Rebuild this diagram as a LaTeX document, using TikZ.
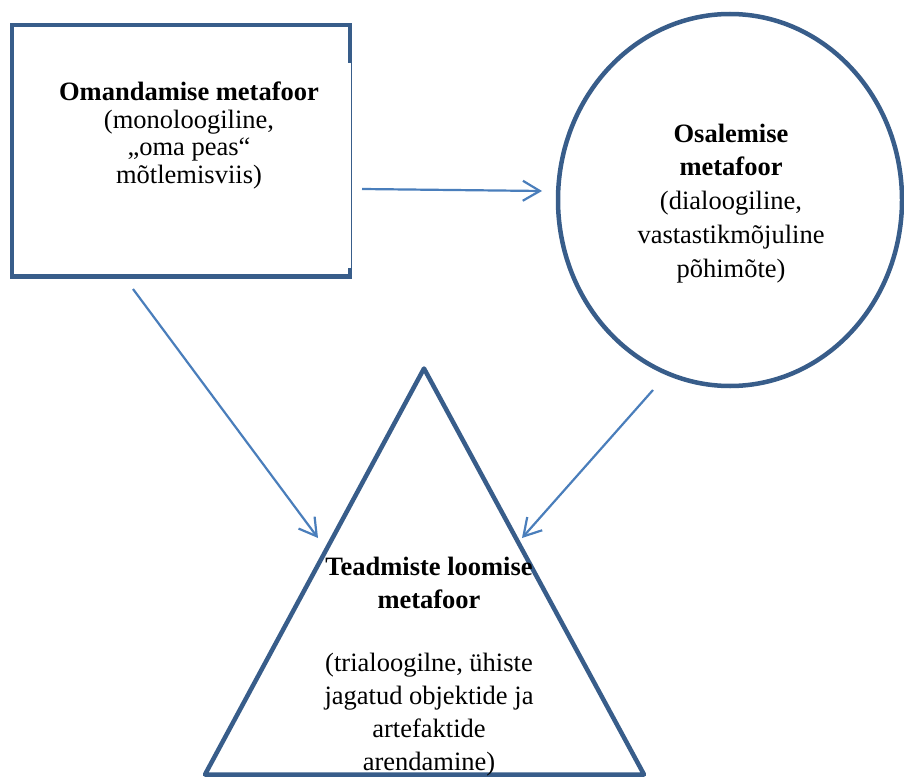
\documentclass[tikz,border=0pt]{standalone}
\usepackage{fontspec}
\setmainfont{Liberation Serif}
\usetikzlibrary{arrows.meta,shapes.geometric,calc}
\definecolor{frame}{HTML}{385D8A}
\definecolor{arrowc}{HTML}{4A7EBB}
\begin{document}
\begin{tikzpicture}[x=1pt,y=-1pt,
  shapeline/.style={draw=frame,line width=4.5pt},
  conn/.style={draw=arrowc,line width=2.2pt,-{Straight Barb[length=17pt,width=20pt,line width=2.2pt]}},
  txt/.style={align=center,inner sep=0pt,text=black}]
\useasboundingbox (0,0) rectangle (904,778);
% rectangle
\node[minimum width=338pt, minimum height=251.5pt, inner sep=0pt, outer sep=0pt, draw=none] (rect) at (181,150.75) {};
\draw[shapeline] ($(rect.north east)+(0,38)$) -- (rect.north east) -- (rect.north west) -- (rect.south west) -- (rect.south east) -- ($(rect.south east)+(0,-9)$);
\draw[draw=frame,line width=1.5pt] ([xshift=1.5pt]rect.north east) -- ([xshift=1.5pt]rect.south east);
\node[txt, anchor=base, font=\fontsize{26.5}{27.5}\selectfont] (rtext) at (189,183.2)
  {\textbf{Omandamise metafoor}\\(monoloogiline,\\„oma peas“\\mõtlemisviis)};
% ellipse
\node[ellipse, shapeline, minimum width=344pt, minimum height=372pt, inner sep=0pt] (circ) at (730,200) {};
\node[txt, anchor=base, font=\fontsize{26.5}{33.75}\selectfont] (ctext) at (731,277)
  {\textbf{Osalemise}\\\textbf{metafoor}\\(dialoogiline,\\vastastikmõjuline\\põhimõte)};
% triangle
\coordinate (apex) at (424,368.5);
\coordinate (bl) at (205,774.5);
\coordinate (br) at (644,774.5);
\draw[shapeline, line join=round] (apex) -- (br) -- (bl) -- cycle;
\node[txt, anchor=base, font=\fontsize{26.5}{33}\selectfont] (ttext) at (429,770)
  {\textbf{Teadmiste loomise}\\\textbf{metafoor}\\[30pt](trialoogilne, ühiste\\jagatud objektide ja\\artefaktide\\arendamine)};
% connectors
\coordinate (a1s) at (362,189);
\coordinate (a1e) at (542,191);
\coordinate (a2s) at (133,289);
\coordinate (a2e) at (318,538);
\coordinate (a3s) at (653,390);
\coordinate (a3e) at (522,538);
\draw[conn] (a1s) -- (a1e);
\draw[conn] (a2s) -- (a2e);
\draw[conn] (a3s) -- (a3e);
\end{tikzpicture}
\end{document}
